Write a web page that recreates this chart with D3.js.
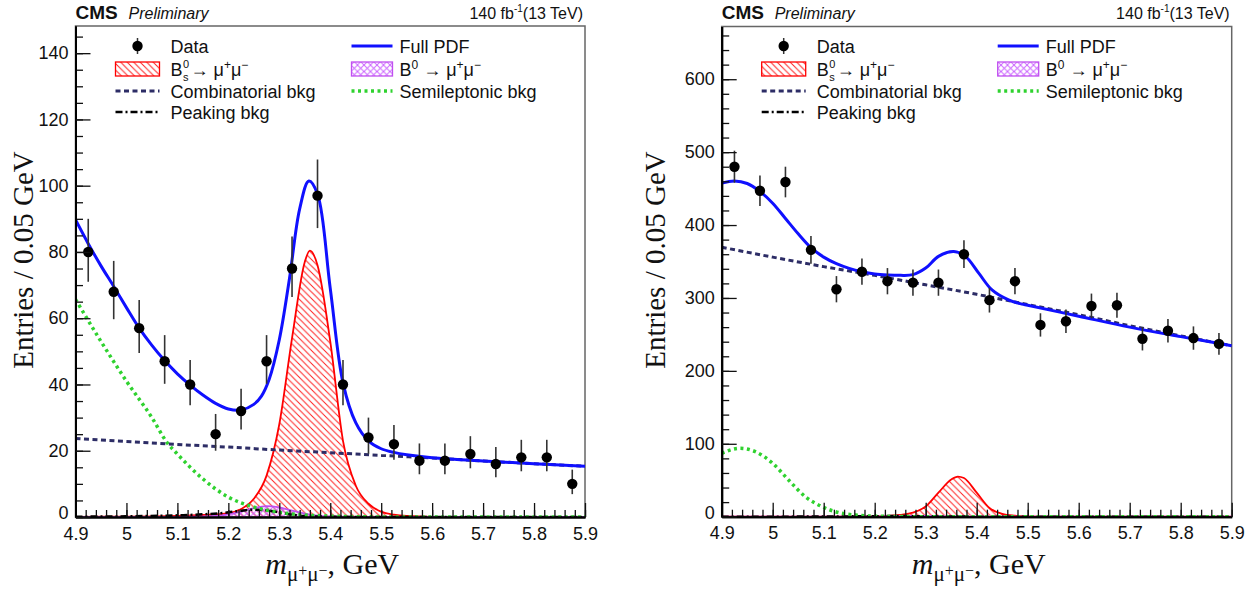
<!DOCTYPE html>
<html><head><meta charset="utf-8">
<script src="https://cdn.jsdelivr.net/npm/d3@7"></script>
<style>
html,body{margin:0;padding:0;background:#fff;}
svg{display:block;}
</style></head><body>
<svg id="chart" width="1260" height="590"></svg>
<script>
// ---------------- DATA ----------------
const xTickValues = [4.9, 5.0, 5.1, 5.2, 5.3, 5.4, 5.5, 5.6, 5.7, 5.8, 5.9];
const xTickLabels = ["4.9", "5", "5.1", "5.2", "5.3", "5.4", "5.5", "5.6", "5.7", "5.8", "5.9"];
const leftYTicks = [0, 20, 40, 60, 80, 100, 120, 140];
const rightYTicks = [0, 100, 200, 300, 400, 500, 600];

const binCenters = [4.925, 4.975, 5.025, 5.075, 5.125, 5.175, 5.225, 5.275, 5.325, 5.375,
                    5.425, 5.475, 5.525, 5.575, 5.625, 5.675, 5.725, 5.775, 5.825, 5.875];

// Left panel data
const leftCounts  = [80, 68, 57, 47, 40, 25, 32, 47, 75, 97, 40, 24, 22, 17, 17, 19, 16, 18, 18, 10];
const leftErrLow  = [9.0, 8.3, 7.5, 6.8, 6.3, 5.0, 5.6, 6.8, 8.6, 9.8, 6.3, 4.9, 4.7, 4.1, 4.1, 4.3, 4.0, 4.2, 4.2, 3.1];
const leftErrHigh = [10.0, 9.3, 8.5, 7.9, 7.4, 6.1, 6.7, 7.9, 9.7, 10.9, 7.4, 6.0, 5.8, 5.2, 5.2, 5.4, 5.1, 5.3, 5.3, 4.3];

const leftPdfX = [4.9, 4.925, 4.95, 4.975, 5.0, 5.025, 5.05, 5.075, 5.1, 5.125, 5.15, 5.175, 5.2, 5.225, 5.25, 5.265, 5.28, 5.3, 5.32, 5.34, 5.358, 5.375, 5.4, 5.425, 5.45, 5.475, 5.5, 5.525, 5.55, 5.6, 5.7, 5.8, 5.9];
const leftPdfY = [89.7, 82.5, 75.8, 69.6, 63.2, 57.0, 51.8, 47.2, 43.2, 39.8, 36.8, 34.3, 32.6, 32.3, 34.0, 36.5, 41.5, 53.5, 72, 93, 101.4, 97.5, 69, 40.5, 28.5, 23.0, 20.6, 19.5, 18.8, 17.9, 16.9, 16.1, 15.3];

const leftBsX = [4.9, 5.0, 5.1, 5.15, 5.2, 5.225, 5.25, 5.275, 5.3, 5.325, 5.35, 5.36, 5.375, 5.4, 5.425, 5.45, 5.475, 5.5, 5.525, 5.55, 5.6, 5.9];
const leftBsY = [0.05, 0.1, 0.3, 0.6, 1.2, 2.4, 5.5, 12.5, 28, 54, 77, 80.4, 76, 53, 23, 9.5, 4, 1.6, 0.7, 0.3, 0.05, 0];

const leftB0X = [4.9, 5.1, 5.15, 5.2, 5.225, 5.25, 5.275, 5.3, 5.325, 5.35, 5.375, 5.4, 5.45, 5.9];
const leftB0Y = [0, 0.05, 0.15, 0.8, 1.6, 2.7, 3.3, 2.9, 1.9, 1.0, 0.4, 0.15, 0, 0];

const leftCombX = [4.9, 5.0, 5.1, 5.2, 5.3, 5.4, 5.5, 5.6, 5.7, 5.8, 5.9];
const leftCombY = [23.7, 22.8, 21.9, 21.1, 20.2, 19.4, 18.6, 17.8, 16.9, 16.1, 15.3];

const leftSemiX = [4.9, 4.95, 5.0, 5.05, 5.08, 5.1, 5.15, 5.2, 5.25, 5.3, 5.35, 5.4, 5.45, 5.5, 5.6, 5.9];
const leftSemiY = [65.7, 53.0, 41.0, 30.0, 22.4, 19.0, 11.5, 6.0, 3.0, 1.4, 0.6, 0.25, 0.1, 0.03, 0, 0];

const leftPeakX = [4.9, 5.0, 5.1, 5.15, 5.2, 5.225, 5.25, 5.275, 5.3, 5.325, 5.35, 5.4, 5.5, 5.9];
const leftPeakY = [0.1, 0.2, 0.5, 0.8, 1.4, 1.9, 2.2, 2.0, 1.4, 0.7, 0.3, 0.1, 0, 0];

// Right panel data
const rightCounts = [480, 447, 459, 366, 312, 336, 323, 321, 321, 360, 297, 323, 263, 268, 289, 290, 244, 255, 245, 237];
const rightErr    = [22, 21, 21, 19, 18, 18, 18, 18, 18, 19, 17, 18, 16, 16, 17, 17, 16, 16, 16, 15];

const rightPdfX = [4.9, 4.925, 4.95, 4.975, 5.0, 5.025, 5.05, 5.075, 5.1, 5.125, 5.15, 5.175, 5.2, 5.225, 5.25, 5.275, 5.3, 5.325, 5.355, 5.378, 5.404, 5.43, 5.4625, 5.489, 5.5, 5.6, 5.7, 5.8, 5.9];
const rightPdfY = [457.5, 460.5, 457, 446, 430, 409, 388, 369, 356, 347, 340.5, 336, 333, 331.6, 331, 332, 341, 357, 363.6, 357, 334, 311, 297.3, 291.5, 290, 275, 260, 247, 234.5];

const rightBsX = [4.9, 5.1, 5.2, 5.25, 5.275, 5.3, 5.325, 5.35, 5.363, 5.375, 5.4, 5.425, 5.45, 5.475, 5.5, 5.55, 5.9];
const rightBsY = [0, 0.05, 0.4, 2.5, 5.5, 14, 33, 51, 55, 53, 33, 12, 4, 1.5, 0.5, 0, 0];

const rightB0X = [4.9, 5.2, 5.25, 5.28, 5.31, 5.35, 5.45, 5.9];
const rightB0Y = [0, 0.2, 0.9, 1.2, 0.9, 0.3, 0, 0];

const rightCombX = [4.9, 5.0, 5.1, 5.2, 5.3, 5.4, 5.5, 5.6, 5.7, 5.8, 5.9];
const rightCombY = [369.6, 356, 343, 331, 318, 305, 291, 277, 262, 248, 234.5];

const rightSemiX = [4.9, 4.936, 4.966, 5.0, 5.031, 5.064, 5.097, 5.13, 5.162, 5.195, 5.25, 5.3, 5.9];
const rightSemiY = [87, 93.8, 89.2, 73.2, 50.4, 27.4, 13.7, 5.5, 2.3, 0.8, 0.2, 0, 0];

const rightPeakX = [4.9, 5.1, 5.2, 5.25, 5.3, 5.4, 5.9];
const rightPeakY = [0, 0.2, 0.7, 0.9, 0.6, 0.1, 0];

// ---------------- DRAWING ----------------
const svg = d3.select("#chart");
const defs = svg.append("defs");
const SANS = "'Liberation Sans', Arial, Helvetica, sans-serif";
const SERIF = "'Liberation Serif', 'Times New Roman', serif";

function makePattern(id, color, cross) {
  const s = 6.5;
  const p = defs.append("pattern").attr("id", id)
    .attr("patternUnits", "userSpaceOnUse").attr("width", s).attr("height", s);
  p.append("path")
    .attr("d", `M${-s/4},${3*s/4} l${s/2},${s/2} M0,0 l${s},${s} M${3*s/4},${-s/4} l${s/2},${s/2}`)
    .attr("stroke", color).attr("stroke-width", 1).attr("fill", "none");
  if (cross) {
    p.append("path")
      .attr("d", `M${-s/4},${s/4} l${s/2},${-s/2} M0,${s} l${s},${-s} M${3*s/4},${5*s/4} l${s/2},${-s/2}`)
      .attr("stroke", color).attr("stroke-width", 1).attr("fill", "none");
  }
}
makePattern("hatchRed", "#ff2020", false);
makePattern("hatchViolet", "#cc66ff", true);

const COL = {
  pdf: "#1010ff", bs: "#ff0000", b0: "#c050f0", comb: "#2d2d66",
  semi: "#2fd22f", peak: "#000000"
};

function pts(xs, ys) { return xs.map((d, i) => [d, ys[i]]); }

function drawPanel(P, idx) {
  const g = svg.append("g");
  const x = d3.scaleLinear().domain([4.9, 5.9]).range([P.x0, P.x1]);
  const y = d3.scaleLinear().domain([0, P.yMax]).range([P.y1, P.y0]);

  const clipId = "clip" + idx;
  defs.append("clipPath").attr("id", clipId).append("rect")
    .attr("x", P.x0).attr("y", P.y0).attr("width", P.x1 - P.x0).attr("height", P.y1 - P.y0);

  // frame
  g.append("rect").attr("x", P.x0).attr("y", P.y0)
    .attr("width", P.x1 - P.x0).attr("height", P.y1 - P.y0)
    .attr("fill", "none").attr("stroke", "#666").attr("stroke-width", 1.5);

  const plot = g.append("g").attr("clip-path", `url(#${clipId})`);
  const line = d3.line().x(d => x(d[0])).y(d => y(d[1])).curve(d3.curveMonotoneX);
  const smooth = d3.line().x(d => x(d[0])).y(d => y(d[1])).curve(d3.curveCatmullRom.alpha(0.5));
  const area = d3.area().x(d => x(d[0])).y0(y(0)).y1(d => y(d[1])).curve(d3.curveMonotoneX);

  // Bs signal (hatched red)
  plot.append("path").datum(pts(P.bsX, P.bsY)).attr("d", area)
    .attr("fill", "url(#hatchRed)").attr("stroke", "none");
  plot.append("path").datum(pts(P.bsX, P.bsY)).attr("d", line)
    .attr("fill", "none").attr("stroke", COL.bs).attr("stroke-width", 1.8);
  // B0 (cross-hatched violet)
  plot.append("path").datum(pts(P.b0X, P.b0Y)).attr("d", area)
    .attr("fill", "url(#hatchViolet)").attr("stroke", "none");
  plot.append("path").datum(pts(P.b0X, P.b0Y)).attr("d", line)
    .attr("fill", "none").attr("stroke", COL.b0).attr("stroke-width", 1.8);
  // peaking bkg
  plot.append("path").datum(pts(P.peakX, P.peakY)).attr("d", line)
    .attr("fill", "none").attr("stroke", COL.peak).attr("stroke-width", 2.5)
    .attr("stroke-dasharray", "7,3,2,3");
  // semileptonic
  plot.append("path").datum(pts(P.semiX, P.semiY)).attr("d", line)
    .attr("fill", "none").attr("stroke", COL.semi).attr("stroke-width", 3.5)
    .attr("stroke-dasharray", "3,3.5");
  // combinatorial
  plot.append("path").datum(pts(P.combX, P.combY)).attr("d", line)
    .attr("fill", "none").attr("stroke", COL.comb).attr("stroke-width", 3)
    .attr("stroke-dasharray", "5,3.5");
  // full pdf
  plot.append("path").datum(pts(P.pdfX, P.pdfY)).attr("d", smooth)
    .attr("fill", "none").attr("stroke", COL.pdf).attr("stroke-width", 3);

  // data
  const dg = g.append("g");
  binCenters.forEach((c, i) => {
    dg.append("line").attr("x1", x(c)).attr("x2", x(c))
      .attr("y1", y(P.counts[i] - P.errLo[i])).attr("y2", y(P.counts[i] + P.errHi[i]))
      .attr("stroke", "#333").attr("stroke-width", 1.6);
    dg.append("circle").attr("cx", x(c)).attr("cy", y(P.counts[i])).attr("r", 5.2).attr("fill", "#000");
  });

  // axes
  const minorX = d3.range(0, 51).map(k => 4.9 + k * 0.02);
  const gxMinor = g.append("g").attr("transform", `translate(0,${P.y1})`)
    .call(d3.axisBottom(x).tickValues(minorX).tickFormat("").tickSizeInner(-7).tickSizeOuter(0));
  const gx = g.append("g").attr("transform", `translate(0,${P.y1})`)
    .call(d3.axisBottom(x).tickValues(xTickValues).tickFormat((d, i) => xTickLabels[i])
      .tickSizeInner(-14).tickSizeOuter(0).tickPadding(10));
  const minorY = d3.range(0, P.yMax, P.yMinor);
  const gyMinor = g.append("g").attr("transform", `translate(${P.x0},0)`)
    .call(d3.axisLeft(y).tickValues(minorY).tickFormat("").tickSizeInner(-7.5).tickSizeOuter(0));
  const gy = g.append("g").attr("transform", `translate(${P.x0},0)`)
    .call(d3.axisLeft(y).tickValues(P.yTicks).tickFormat(d3.format("d"))
      .tickSizeInner(-15).tickSizeOuter(0).tickPadding(7));
  [gxMinor, gx, gyMinor, gy].forEach(a => {
    a.selectAll(".tick line").attr("stroke", "#111").attr("stroke-width", 1.3);
    a.select(".domain").attr("stroke", "#000").attr("stroke-width", 2);
    a.selectAll("text").attr("font-family", SANS).attr("font-size", 18).attr("fill", "#111");
  });
  // lift the "0" label a touch so it does not collide with the first x label
  gy.selectAll(".tick text").filter(d => d === 0).attr("dy", "0.1em");

  // axis titles
  g.append("text").attr("transform", `translate(${P.yTitleX},260) rotate(-90)`)
    .attr("text-anchor", "middle").attr("font-family", SERIF).attr("font-size", 29)
    .attr("fill", "#111").text("Entries / 0.05 GeV");
  const xt = g.append("text").attr("x", (P.x0 + P.x1) / 2 + 2).attr("y", 574)
    .attr("text-anchor", "middle").attr("font-family", SERIF).attr("font-size", 30).attr("fill", "#111");
  xt.append("tspan").attr("font-style", "italic").text("m");
  xt.append("tspan").attr("font-size", 21).attr("dy", 7).text("μ");
  xt.append("tspan").attr("font-size", 16).attr("dy", -5).text("+");
  xt.append("tspan").attr("font-size", 21).attr("dy", 5).text("μ");
  xt.append("tspan").attr("font-size", 16).attr("dy", -5).text("−");
  xt.append("tspan").attr("dy", -2).text(", GeV");

  // header
  g.append("text").attr("x", P.x0).attr("y", 19).attr("font-family", SANS)
    .attr("font-weight", "bold").attr("font-size", 19).attr("fill", "#111").text("CMS");
  g.append("text").attr("x", P.x0 + 53).attr("y", 19).attr("font-family", SANS)
    .attr("font-style", "italic").attr("font-size", 16).attr("fill", "#111").text("Preliminary");
  const lumi = g.append("text").attr("x", P.x1 - 2).attr("y", 19).attr("text-anchor", "end")
    .attr("font-family", SANS).attr("font-size", 16).attr("fill", "#111");
  lumi.append("tspan").text("140 fb");
  lumi.append("tspan").attr("font-size", 10).attr("dy", -7).text("-1");
  lumi.append("tspan").attr("dy", 7).text("(13 TeV)");

  // legend
  const L = g.append("g").attr("font-family", SANS).attr("font-size", 18).attr("fill", "#111");
  const c1 = P.x0 + 40, c1w = 44, t1 = P.x0 + 95;
  const c2 = P.x0 + 276, c2w = 41, t2 = P.x0 + 324;
  const rows = [46, 69, 91, 112];
  const tb = r => r + 6.5;
  // Data
  L.append("line").attr("x1", c1 + c1w / 2).attr("x2", c1 + c1w / 2).attr("y1", rows[0] - 8).attr("y2", rows[0] + 8)
    .attr("stroke", "#333").attr("stroke-width", 1.5);
  L.append("circle").attr("cx", c1 + c1w / 2).attr("cy", rows[0]).attr("r", 5.2).attr("fill", "#000");
  L.append("text").attr("x", t1).attr("y", tb(rows[0])).text("Data");
  // Bs : B, stacked 0 / s as separate small texts, then arrow text
  L.append("text").attr("x", t1).attr("y", tb(rows[1])).text("B");
  L.append("text").attr("x", t1 + 12.5).attr("y", tb(rows[1]) - 8).attr("font-size", 11).text("0");
  L.append("text").attr("x", t1 + 12.5).attr("y", tb(rows[1]) + 5).attr("font-size", 11).text("s");
  const tbs = L.append("text").attr("x", t1 + 20).attr("y", tb(rows[1]));
  tbs.append("tspan").text(" → μ");
  tbs.append("tspan").attr("font-size", 12).attr("dy", -7).text("+");
  tbs.append("tspan").attr("dy", 7).text("μ");
  tbs.append("tspan").attr("font-size", 12).attr("dy", -7).text("−");
  L.append("rect").attr("x", c1).attr("y", rows[1] - 7).attr("width", c1w).attr("height", 14)
    .attr("fill", "url(#hatchRed)").attr("stroke", COL.bs).attr("stroke-width", 1.3);
  // Combinatorial
  L.append("line").attr("x1", c1).attr("x2", c1 + c1w).attr("y1", rows[2]).attr("y2", rows[2])
    .attr("stroke", COL.comb).attr("stroke-width", 3).attr("stroke-dasharray", "5,3.5");
  L.append("text").attr("x", t1).attr("y", tb(rows[2])).text("Combinatorial bkg");
  // Peaking
  L.append("line").attr("x1", c1).attr("x2", c1 + c1w).attr("y1", rows[3]).attr("y2", rows[3])
    .attr("stroke", COL.peak).attr("stroke-width", 2.5).attr("stroke-dasharray", "7,3,2,3");
  L.append("text").attr("x", t1).attr("y", tb(rows[3])).text("Peaking bkg");
  // Full PDF
  L.append("line").attr("x1", c2).attr("x2", c2 + c2w).attr("y1", rows[0]).attr("y2", rows[0])
    .attr("stroke", COL.pdf).attr("stroke-width", 3);
  L.append("text").attr("x", t2).attr("y", tb(rows[0])).text("Full PDF");
  // B0
  L.append("rect").attr("x", c2).attr("y", rows[1] - 7).attr("width", c2w).attr("height", 14)
    .attr("fill", "url(#hatchViolet)").attr("stroke", COL.b0).attr("stroke-width", 1.3);
  const tb0 = L.append("text").attr("x", t2).attr("y", tb(rows[1]));
  tb0.append("tspan").text("B");
  tb0.append("tspan").attr("font-size", 12).attr("dy", -7).text("0");
  tb0.append("tspan").attr("dy", 7).text(" → μ");
  tb0.append("tspan").attr("font-size", 12).attr("dy", -7).text("+");
  tb0.append("tspan").attr("dy", 7).text("μ");
  tb0.append("tspan").attr("font-size", 12).attr("dy", -7).text("−");
  // Semileptonic
  L.append("line").attr("x1", c2).attr("x2", c2 + c2w).attr("y1", rows[2]).attr("y2", rows[2])
    .attr("stroke", COL.semi).attr("stroke-width", 3.5).attr("stroke-dasharray", "3,3.5");
  L.append("text").attr("x", t2).attr("y", tb(rows[2])).text("Semileptonic bkg");
}

drawPanel({
  x0: 75.5, x1: 585, y0: 26, y1: 517, yMax: 148.2, yMinor: 5, yTicks: leftYTicks, yTitleX: 33,
  counts: leftCounts, errLo: leftErrLow, errHi: leftErrHigh,
  pdfX: leftPdfX, pdfY: leftPdfY, bsX: leftBsX, bsY: leftBsY, b0X: leftB0X, b0Y: leftB0Y,
  combX: leftCombX, combY: leftCombY, semiX: leftSemiX, semiY: leftSemiY, peakX: leftPeakX, peakY: leftPeakY
}, 0);

drawPanel({
  x0: 721.7, x1: 1231.7, y0: 26.5, y1: 516.7, yMax: 672.3, yMinor: 20, yTicks: rightYTicks, yTitleX: 665,
  counts: rightCounts, errLo: rightErr, errHi: rightErr,
  pdfX: rightPdfX, pdfY: rightPdfY, bsX: rightBsX, bsY: rightBsY, b0X: rightB0X, b0Y: rightB0Y,
  combX: rightCombX, combY: rightCombY, semiX: rightSemiX, semiY: rightSemiY, peakX: rightPeakX, peakY: rightPeakY
}, 1);
</script>
</body></html>
